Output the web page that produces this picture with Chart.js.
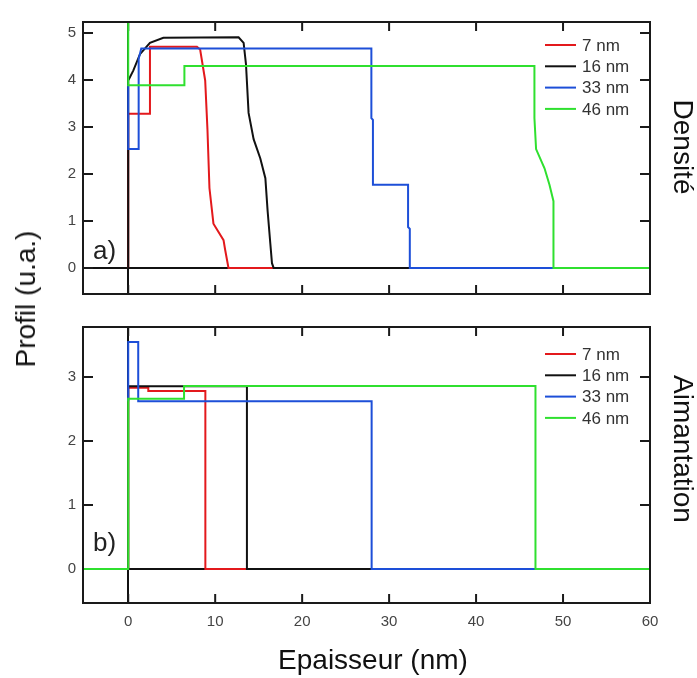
<!DOCTYPE html>
<html>
<head>
<meta charset="utf-8">
<script src="https://cdn.jsdelivr.net/npm/chart.js@4.4.0/dist/chart.umd.min.js"></script>
<style>
  body{margin:0;background:#fff;width:697px;height:678px;position:relative;overflow:hidden;font-family:"Liberation Sans",Arial,sans-serif}
  .box{position:absolute;left:0;width:697px}
  .lbl{position:absolute;font-size:28px;color:#111;white-space:nowrap;transform-origin:center}
</style>
</head>
<body>
<div class="box" style="top:0;height:310px"><canvas id="top"></canvas></div>
<div class="box" style="top:310px;height:368px"><canvas id="bot"></canvas></div>
<div class="lbl" style="left:373px;top:660px;transform:translate(-50%,-50%)">Epaisseur (nm)</div>
<div class="lbl" style="left:26px;top:299px;transform:translate(-50%,-50%) rotate(-90deg)">Profil (u.a.)</div>
<div class="lbl" style="left:683px;top:147px;transform:translate(-50%,-50%) rotate(90deg)">Densité</div>
<div class="lbl" style="left:683px;top:449px;transform:translate(-50%,-50%) rotate(90deg)">Aimantation</div>
<script>
// series names + colours
var names = ['7 nm', '16 nm', '33 nm', '46 nm'];
var colors = ['#e3191c', '#111111', '#1d4fd8', '#2fe02f'];

// tick values
var xTicks = [0, 10, 20, 30, 40, 50, 60];
var yTicksDens = [0, 1, 2, 3, 4, 5];
var yTicksAim = [0, 1, 2, 3];

// a) densite profiles [epaisseur, valeur]
var dens7 = [[0,0],[0,3.28],[2.42,3.28],[2.5,4.71],[7.9,4.71],[8.27,4.65],[8.85,3.99],[9.11,2.95],[9.34,1.70],[9.8,0.94],[10.96,0.59],[11.15,0.38],[11.53,0],[60,0]];
var dens16 = [[0,0],[0,3.99],[0.58,4.2],[1.35,4.55],[2.5,4.79],[4.04,4.9],[12.69,4.91],[13.27,4.79],[13.54,4.34],[13.84,3.30],[14.42,2.74],[15.19,2.33],[15.77,1.91],[16.03,1.21],[16.34,0.52],[16.53,0.1],[16.72,0],[60,0]];
var dens33 = [[0,3.89],[0,2.53],[1.15,2.53],[1.2,4.45],[1.5,4.67],[27.96,4.67],[27.96,3.19],[28.14,3.15],[28.14,1.77],[32.18,1.77],[32.18,0.87],[32.38,0.83],[32.38,0],[60,0]];
var dens46 = [[0,6],[0,3.89],[6.46,3.89],[6.46,4.30],[46.71,4.30],[46.71,3.19],[46.9,2.53],[47.87,2.12],[48.44,1.77],[48.9,1.42],[48.9,0],[60,0]];

// b) aimantation profiles
var aim7 = [[0,0],[0,2.83],[2.31,2.83],[2.31,2.78],[8.87,2.78],[8.87,0],[60,0]];
var aim16 = [[0,0],[0,2.855],[13.65,2.855],[13.65,0],[60,0]];
var aim33 = [[0,2.62],[0,3.545],[1.15,3.545],[1.15,2.62],[27.99,2.62],[27.99,0],[60,0]];
var aim46 = [[-6,0],[0,0],[0,2.66],[6.42,2.66],[6.42,2.86],[46.83,2.86],[46.83,0],[60,0]];

function toPts(arr){ return arr.map(function(p){ return {x:p[0], y:p[1]}; }); }

function makeSets(list){
  return list.map(function(s, i){
    return {
      label: names[i],
      data: toPts(s),
      showLine: true,
      borderColor: colors[i],
      backgroundColor: colors[i],
      borderWidth: 2,
      pointRadius: 0,
      tension: 0,
      order: 3 - i   // green on top, red underneath
    };
  });
}

// inward ticks under the curves, frame + legend + tag over them
var frame = {
  id: 'frame',
  beforeDatasetsDraw: function(chart){
    var ctx = chart.ctx, a = chart.chartArea, x = chart.scales.x, y = chart.scales.y;
    ctx.save();
    ctx.strokeStyle = '#1a1a1a';
    ctx.lineWidth = 2;
    ctx.beginPath();
    x.ticks.forEach(function(t){
      var px = x.getPixelForValue(t.value);
      ctx.moveTo(px, a.top); ctx.lineTo(px, a.top + 9);
      ctx.moveTo(px, a.bottom); ctx.lineTo(px, a.bottom - 9);
    });
    y.ticks.forEach(function(t){
      var py = y.getPixelForValue(t.value);
      ctx.moveTo(a.left, py); ctx.lineTo(a.left + 10, py);
      ctx.moveTo(a.right, py); ctx.lineTo(a.right - 10, py);
    });
    ctx.stroke();
    ctx.restore();
  },
  afterDatasetsDraw: function(chart, args, opts){
    var ctx = chart.ctx, a = chart.chartArea;
    ctx.save();
    ctx.strokeStyle = '#1a1a1a';
    ctx.lineWidth = 2;
    ctx.strokeRect(a.left, a.top, a.right - a.left, a.bottom - a.top);

    // legend
    ctx.font = '17px "Liberation Sans", Arial, sans-serif';
    ctx.textBaseline = 'middle';
    ctx.textAlign = 'left';
    names.forEach(function(n, i){
      var ly = a.top + opts.legTop + i * 21.3;
      ctx.strokeStyle = colors[i];
      ctx.lineWidth = 2;
      ctx.beginPath();
      ctx.moveTo(a.right - 105, ly); ctx.lineTo(a.right - 74, ly);
      ctx.stroke();
      ctx.fillStyle = '#333';
      ctx.fillText(n, a.right - 68, ly + 1);
    });

    // a) / b)
    ctx.font = '26px "Liberation Sans", Arial, sans-serif';
    ctx.fillStyle = '#222';
    ctx.fillText(opts.tag, a.left + 10, a.bottom - opts.tagUp);
    ctx.restore();
  }
};

function zeroGrid(c){ return c.tick && c.tick.value === 0 ? '#111' : 'rgba(0,0,0,0)'; }

function makeChart(id, sets, yMin, yMax, yTicks, showX, xh, padTop, tag, tagUp, legTop){
  return new Chart(document.getElementById(id), {
    type: 'scatter',
    data: { datasets: makeSets(sets) },
    plugins: [frame],
    options: {
      responsive: true,
      maintainAspectRatio: false,
      animation: false,
      layout: { padding: { top: padTop, right: 47, left: 0, bottom: 0 } },
      plugins: {
        legend: { display: false },
        tooltip: { enabled: false },
        frame: { tag: tag, tagUp: tagUp, legTop: legTop }
      },
      scales: {
        x: {
          type: 'linear', min: -5.2, max: 60,
          afterBuildTicks: function(s){ s.ticks = xTicks.map(function(v){ return {value: v}; }); },
          afterFit: function(s){ s.height = xh; },
          border: { display: false },
          grid: { color: zeroGrid, lineWidth: 2, drawTicks: false },
          ticks: { display: showX, color: '#444', padding: 10, maxRotation: 0,
                   font: { family: '"Liberation Sans", Arial, sans-serif', size: 15 } }
        },
        y: {
          type: 'linear', min: yMin, max: yMax,
          afterBuildTicks: function(s){ s.ticks = yTicks.map(function(v){ return {value: v}; }); },
          afterFit: function(s){ s.width = 83; },
          border: { display: false },
          grid: { color: zeroGrid, lineWidth: 2, drawTicks: false },
          ticks: { color: '#444', padding: 7,
                   font: { family: '"Liberation Sans", Arial, sans-serif', size: 15 } }
        }
      }
    }
  });
}

makeChart('top', [dens7, dens16, dens33, dens46], -0.556, 5.235, yTicksDens, false, 10, 22, 'a)', 42, 23);
makeChart('bot', [aim7, aim16, aim33, aim46], -0.53, 3.78, yTicksAim, true, 75, 17, 'b)', 59, 27);
</script>
</body>
</html>
